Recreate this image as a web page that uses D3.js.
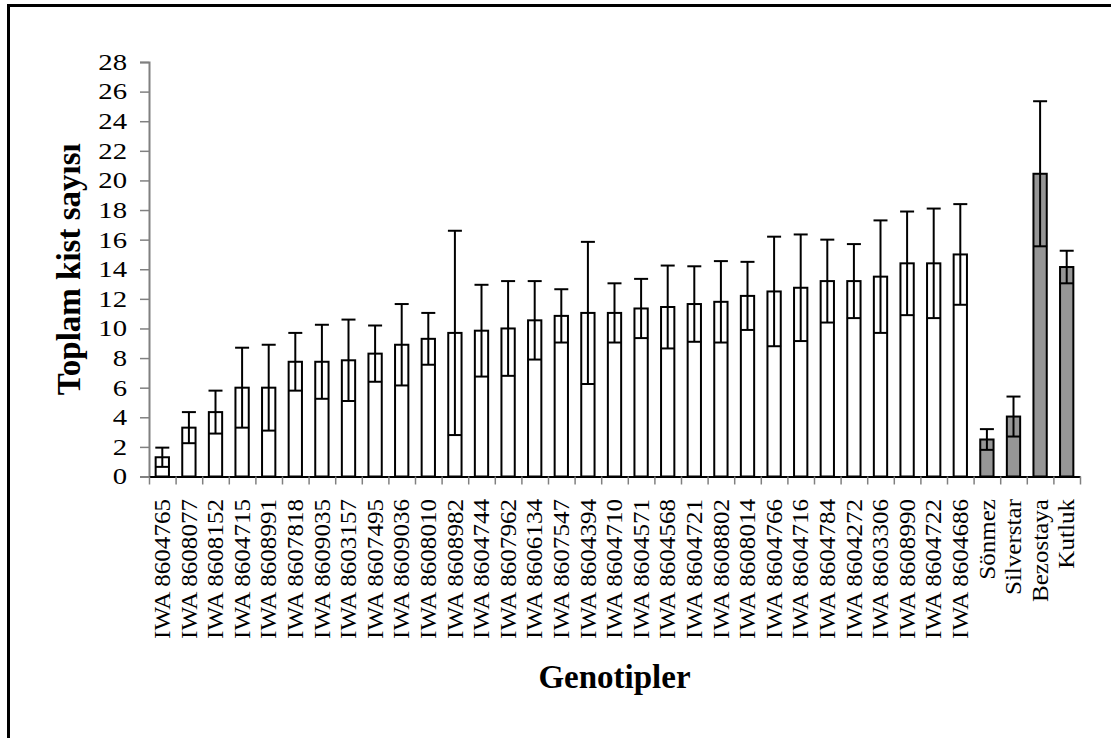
<!DOCTYPE html>
<html>
<head>
<meta charset="utf-8">
<script src="https://cdn.jsdelivr.net/npm/d3@7/dist/d3.min.js"></script>
<style>
  html, body { margin: 0; padding: 0; background: #fff; }
  svg { display: block; }
  text { font-family: "Liberation Serif", "Times New Roman", serif; fill: #000; }
</style>
</head>
<body>
<svg id="chart" width="1111" height="738"></svg>
<script>
// Genotypes (31 IWA lines followed by 4 check cultivars)
const genotypes = [
  "IWA 8604765", "IWA 8608077", "IWA 8608152", "IWA 8604715", "IWA 8608991",
  "IWA 8607818", "IWA 8609035", "IWA 8603157", "IWA 8607495", "IWA 8609036",
  "IWA 8608010", "IWA 8608982", "IWA 8604744", "IWA 8607962", "IWA 8606134",
  "IWA 8607547", "IWA 8604394", "IWA 8604710", "IWA 8604571", "IWA 8604568",
  "IWA 8604721", "IWA 8608802", "IWA 8608014", "IWA 8604766", "IWA 8604716",
  "IWA 8604784", "IWA 8604272", "IWA 8603306", "IWA 8608990", "IWA 8604722",
  "IWA 8604686", "Sönmez", "Silverstar", "Bezostaya", "Kutluk"
];

// Mean total cyst count per genotype
const means = [
  1.3, 3.3, 4.35, 6.0, 6.0,
  7.75, 7.75, 7.85, 8.3, 8.9,
  9.3, 9.7, 9.85, 10.0, 10.55,
  10.85, 11.05, 11.05, 11.35, 11.45,
  11.65, 11.8, 12.2, 12.5, 12.75,
  13.2, 13.2, 13.5, 14.4, 14.4,
  15.0, 2.5, 4.05, 20.45, 14.15
];

// Error (± half-range of the whiskers)
const errors = [
  0.65, 1.05, 1.45, 2.7, 2.9,
  1.95, 2.5, 2.75, 1.9, 2.75,
  1.75, 6.9, 3.1, 3.2, 2.65,
  1.8, 4.8, 2.0, 2.0, 2.8,
  2.55, 2.75, 2.3, 3.7, 3.6,
  2.8, 2.5, 3.8, 3.5, 3.7,
  3.4, 0.7, 1.35, 4.9, 1.1
];

// Standard cultivars drawn with grey fill
const checkCultivars = ["Sönmez", "Silverstar", "Bezostaya", "Kutluk"];

const yTicks = [0, 2, 4, 6, 8, 10, 12, 14, 16, 18, 20, 22, 24, 26, 28];

const yTitle = "Toplam kist sayısı";
const xTitle = "Genotipler";

const svg = d3.select("#chart");

// outer frame
svg.append("rect")
  .attr("x", 8.5).attr("y", 5.5)
  .attr("width", 1130).attr("height", 760)
  .attr("fill", "none").attr("stroke", "#000").attr("stroke-width", 3);

const plotLeft = 149, plotRight = 1080, plotTop = 62, plotBottom = 476.5;

const x = d3.scaleBand()
  .domain(genotypes)
  .range([plotLeft, plotRight])
  .paddingInner(0.5)
  .paddingOuter(0.25);

// category boundaries for tick marks
const xEdge = d3.scaleLinear().domain([0, genotypes.length]).range([plotLeft, plotRight]);

const y = d3.scaleLinear().domain([0, 28]).range([plotBottom, plotTop]);

const data = genotypes.map((g, i) => ({ g, m: means[i], e: errors[i] }));

// bars
svg.append("g").selectAll("rect")
  .data(data)
  .join("rect")
  .attr("x", d => x(d.g))
  .attr("y", d => y(d.m))
  .attr("width", x.bandwidth())
  .attr("height", d => y(0) - y(d.m))
  .attr("fill", d => checkCultivars.includes(d.g) ? "#969696" : "#fff")
  .attr("stroke", "#000")
  .attr("stroke-width", 2);

// error bars
const capW = 14;
const eb = svg.append("g").attr("stroke", "#000").attr("stroke-width", 2);
eb.selectAll("line.v")
  .data(data)
  .join("line")
  .attr("class", "v")
  .attr("x1", d => x(d.g) + x.bandwidth() / 2)
  .attr("x2", d => x(d.g) + x.bandwidth() / 2)
  .attr("y1", d => y(d.m - d.e))
  .attr("y2", d => y(d.m + d.e));
eb.selectAll("line.t")
  .data(data)
  .join("line")
  .attr("class", "t")
  .attr("x1", d => x(d.g) + x.bandwidth() / 2 - capW / 2)
  .attr("x2", d => x(d.g) + x.bandwidth() / 2 + capW / 2)
  .attr("y1", d => y(d.m + d.e))
  .attr("y2", d => y(d.m + d.e));
eb.selectAll("line.b")
  .data(data)
  .join("line")
  .attr("class", "b")
  .attr("x1", d => x(d.g) + x.bandwidth() / 2 - capW / 2)
  .attr("x2", d => x(d.g) + x.bandwidth() / 2 + capW / 2)
  .attr("y1", d => y(d.m - d.e))
  .attr("y2", d => y(d.m - d.e));

// y axis
const yAxis = svg.append("g")
  .attr("transform", `translate(${plotLeft},0)`)
  .call(d3.axisLeft(y).tickValues(yTicks).tickSize(9).tickPadding(6).tickFormat(d3.format("d")));
yAxis.select(".domain").attr("stroke", "#808080").attr("stroke-width", 2);
yAxis.selectAll(".tick line").attr("stroke", "#808080").attr("stroke-width", 1.5);
yAxis.selectAll(".tick text")
  .attr("font-family", "Liberation Serif, serif")
  .attr("font-size", 23)
  .attr("fill", "#000")
  .attr("x", 0)
  .attr("transform", "translate(-22,0) scale(1.25,1)");

// x axis line and boundary ticks
const xAxis = svg.append("g")
  .attr("transform", `translate(0,${plotBottom})`)
  .call(d3.axisBottom(xEdge).tickValues(d3.range(genotypes.length + 1)).tickSize(8).tickSizeOuter(0).tickFormat(""));
xAxis.select(".domain").attr("stroke", "#000").attr("stroke-width", 2);
xAxis.selectAll(".tick line").attr("stroke", "#808080").attr("stroke-width", 1.5);

// category labels
svg.append("g").selectAll("text")
  .data(genotypes)
  .join("text")
  .attr("transform", d => `translate(${x(d) + x.bandwidth() / 2},499) rotate(-90) scale(1.09,1)`)
  .attr("text-anchor", "end")
  .attr("dy", "0.33em")
  .attr("font-size", 23)
  .text(d => d);

// axis titles
svg.append("text")
  .attr("transform", `translate(68,${(plotTop + plotBottom) / 2}) rotate(-90)`)
  .attr("text-anchor", "middle")
  .attr("dy", "0.35em")
  .attr("font-size", 33)
  .attr("font-weight", "bold")
  .text(yTitle);

svg.append("text")
  .attr("x", (plotLeft + plotRight) / 2)
  .attr("y", 688)
  .attr("text-anchor", "middle")
  .attr("font-size", 33)
  .attr("font-weight", "bold")
  .text(xTitle);
</script>
</body>
</html>
